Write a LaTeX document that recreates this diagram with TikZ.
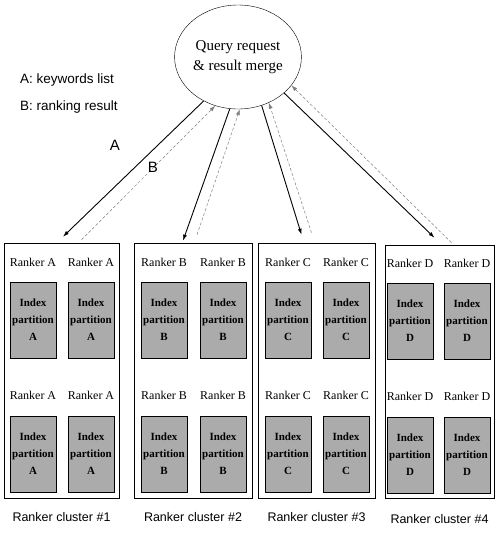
\documentclass[tikz,border=0pt]{standalone}
\usepackage{fontspec}
\setmainfont{Liberation Serif}
\newfontfamily\labelfont{Liberation Sans}
\usetikzlibrary{arrows.meta,shapes.geometric}

\begin{document}
\begin{tikzpicture}[x=1pt,y=-1pt,
    hub/.style={draw,ellipse,minimum width=120pt,minimum height=104pt,inner sep=0pt,align=center,font=\fontsize{15}{24}\selectfont},
    cluster/.style={draw,line width=0.6pt,inner sep=0pt},
    partition/.style={draw,line width=0.8pt,fill=black!33,minimum width=46pt,minimum height=76pt,inner sep=0pt,align=center,font=\bfseries\fontsize{11}{17}\selectfont},
    ranker/.style={inner sep=0pt,font=\fontsize{12}{14}\selectfont},
    caption/.style={inner sep=0pt,font=\labelfont\fontsize{12.5}{14}\selectfont},
    legend/.style={anchor=west,inner sep=0pt,font=\labelfont\fontsize{13.5}{15}\selectfont},
    sendarrow/.style={line width=0.9pt,-{Latex[length=6pt,width=4pt]}},
    backarrow/.style={gray,line width=0.5pt,densely dashed,-{Latex[length=6pt,width=4pt]}}]

    \useasboundingbox (0,0) rectangle (496,533);

    % query node and legend
    \node[hub] (query) at (238,57) {\raisebox{-4pt}{\shortstack{Query request\\[4pt]\& result merge}}};
    \node[legend] (keylist) at (20,80) {A: keywords list};
    \node[legend] (ranklist) at (20,107) {B: ranking result};

    % cluster #1
    \node[cluster,minimum width=115pt,minimum height=255pt] (c1) at (61.5,370.5) {};
    \node[ranker] (r1a) at (33,262) {Ranker A};
    \node[ranker] (r1b) at (91,262) {Ranker A};
    \node[partition] (p1a) at (33,320) {Index\\partition\\A};
    \node[partition] (p1b) at (91,320) {Index\\partition\\A};
    \node[ranker] (r1c) at (33,395) {Ranker A};
    \node[ranker] (r1d) at (91,395) {Ranker A};
    \node[partition] (p1c) at (33,454) {Index\\partition\\A};
    \node[partition] (p1d) at (91,454) {Index\\partition\\A};
    \node[caption] (cap1) at (61.5,517) {Ranker cluster \#1};

    % cluster #2
    \node[cluster,minimum width=118pt,minimum height=255pt] (c2) at (193,370.5) {};
    \node[ranker] (r2a) at (164,262) {Ranker B};
    \node[ranker] (r2b) at (223,262) {Ranker B};
    \node[partition] (p2a) at (164,320) {Index\\partition\\B};
    \node[partition] (p2b) at (223,320) {Index\\partition\\B};
    \node[ranker] (r2c) at (164,395) {Ranker B};
    \node[ranker] (r2d) at (223,395) {Ranker B};
    \node[partition] (p2c) at (164,454) {Index\\partition\\B};
    \node[partition] (p2d) at (223,454) {Index\\partition\\B};
    \node[caption] (cap2) at (193,517) {Ranker cluster \#2};

    % cluster #3
    \node[cluster,minimum width=117pt,minimum height=255pt] (c3) at (316.5,370.5) {};
    \node[ranker] (r3a) at (288,262) {Ranker C};
    \node[ranker] (r3b) at (346,262) {Ranker C};
    \node[partition] (p3a) at (288,320) {Index\\partition\\C};
    \node[partition] (p3b) at (346,320) {Index\\partition\\C};
    \node[ranker] (r3c) at (288,395) {Ranker C};
    \node[ranker] (r3d) at (346,395) {Ranker C};
    \node[partition] (p3c) at (288,454) {Index\\partition\\C};
    \node[partition] (p3d) at (346,454) {Index\\partition\\C};
    \node[caption] (cap3) at (316.5,517) {Ranker cluster \#3};

    % cluster #4
    \node[cluster,minimum width=109pt,minimum height=253pt] (c4) at (439.5,371.5) {};
    \node[ranker] (r4a) at (410,263) {Ranker D};
    \node[ranker] (r4b) at (467,263) {Ranker D};
    \node[partition] (p4a) at (410,321) {Index\\partition\\D};
    \node[partition] (p4b) at (467,321) {Index\\partition\\D};
    \node[ranker] (r4c) at (410,396) {Ranker D};
    \node[ranker] (r4d) at (467,396) {Ranker D};
    \node[partition] (p4c) at (410,455) {Index\\partition\\D};
    \node[partition] (p4d) at (467,455) {Index\\partition\\D};
    \node[caption] (cap4) at (439.5,519) {Ranker cluster \#4};

    % A and B flows
    \draw[sendarrow] (query.232) -- ([xshift=1.5pt,yshift=6pt]c1.north);
    \draw[backarrow] ([xshift=20pt,yshift=3pt]c1.north) -- (query.245);
    \draw[sendarrow] (query.261) -- ([xshift=-10pt,yshift=2pt]c2.north);
    \draw[backarrow] ([xshift=4pt,yshift=8pt]c2.north) -- (query.272);
    \draw[sendarrow] (query.296) -- ([xshift=-15pt,yshift=8pt]c3.north);
    \draw[backarrow] ([xshift=-5pt,yshift=10pt]c3.north) -- (query.304);
    \draw[sendarrow] (query.322) -- ([xshift=-5pt,yshift=7pt]c4.north);
    \draw[backarrow] ([xshift=12pt,yshift=2pt]c4.north) -- (query.332);
    \node[font=\labelfont\fontsize{15}{17}\selectfont] (flowa) at (115,145) {A};
    \node[font=\labelfont\fontsize{15}{17}\selectfont] (flowb) at (153,167) {B};
\end{tikzpicture}
\end{document}
